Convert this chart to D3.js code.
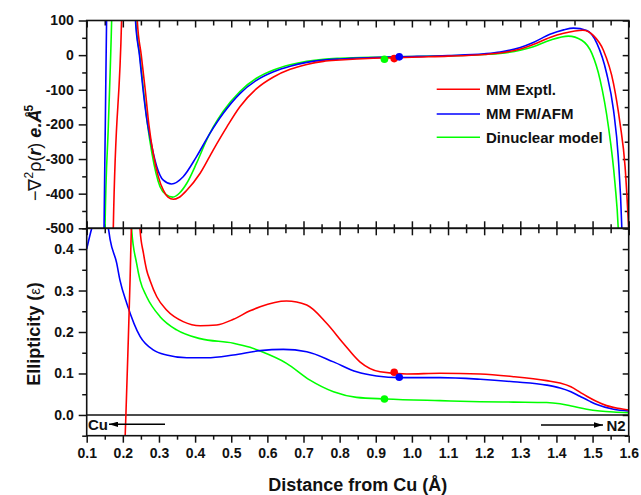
<!DOCTYPE html>
<html>
<head>
<meta charset="utf-8">
<script src="https://cdn.jsdelivr.net/npm/d3@7/dist/d3.min.js"></script>
<style>
  html, body { margin: 0; padding: 0; background: #fff; }
  svg { display: block; font-family: "Liberation Sans", Arial, sans-serif; }
  .tick text { font-weight: bold; font-size: 14px; fill: #111; }
</style>
</head>
<body>
<svg id="chart" width="641" height="495"></svg>
<script>
// Laplacian of the electron density along the Cu–N2 bond path, [distance (Å), value]
const lapExptl = [[0.170,-800],[0.1736,-500],[0.1965,100],[0.200,250],[0.220,400],[0.234,250],[0.240,100],[0.251,0],[0.262,-100],[0.272,-200],[0.284,-284],[0.298,-350],[0.312,-390],[0.325,-410],[0.340,-416],[0.355,-411],[0.377,-390],[0.414,-341],[0.450,-274],[0.488,-207],[0.524,-149],[0.571,-96],[0.617,-63],[0.663,-41],[0.709,-27],[0.755,-18],[0.801,-14],[0.893,-9],[0.950,-8],[1.000,-6],[1.100,-3],[1.200,2],[1.244,6],[1.300,18],[1.336,31],[1.382,51],[1.420,63],[1.473,72],[1.502,57],[1.530,14],[1.558,-82],[1.576,-197],[1.590,-322],[1.600,-500],[1.605,-600]];
const lapFmAfm = [[0.145,-900],[0.148,-500],[0.1515,-200],[0.155,100],[0.160,350],[0.200,500],[0.228,350],[0.235,100],[0.246,0],[0.256,-100],[0.267,-190],[0.275,-236],[0.294,-322],[0.312,-361],[0.335,-372],[0.367,-351],[0.404,-293],[0.441,-226],[0.478,-168],[0.524,-111],[0.571,-72],[0.617,-48],[0.663,-32],[0.709,-21],[0.755,-14.5],[0.801,-11],[0.893,-7],[0.960,-5],[1.000,-4],[1.100,-1],[1.200,4],[1.244,9],[1.300,22],[1.336,36.5],[1.382,60],[1.420,73],[1.447,78],[1.484,71],[1.512,34],[1.539,-53],[1.558,-159],[1.571,-293],[1.581,-500],[1.586,-700]];
const lapDinuclear = [[0.147,-900],[0.1507,-500],[0.160,-200],[0.169,100],[0.174,350],[0.200,500],[0.229,350],[0.236,100],[0.247,0],[0.257,-100],[0.267,-190],[0.280,-280],[0.303,-380],[0.320,-403],[0.338,-410],[0.357,-398],[0.377,-370],[0.404,-312],[0.432,-245],[0.450,-208],[0.478,-162],[0.524,-105],[0.571,-66],[0.617,-43],[0.663,-28],[0.709,-18],[0.755,-12],[0.801,-9],[0.893,-6],[0.950,-5],[1.000,-4],[1.100,-2],[1.200,2],[1.244,5],[1.300,14],[1.336,24],[1.382,43],[1.433,55],[1.470,43],[1.498,5],[1.521,-72],[1.544,-207],[1.562,-370],[1.571,-500],[1.576,-650]];

// Bond ellipticity along the same path
const ellExptl = [[0.200,-0.300],[0.2065,-0.050],[0.2085,0.000],[0.214,0.150],[0.220,0.325],[0.2235,0.450],[0.228,0.620],[0.236,0.650],[0.243,0.560],[0.2476,0.447],[0.257,0.390],[0.266,0.349],[0.275,0.325],[0.294,0.285],[0.321,0.253],[0.367,0.225],[0.414,0.215],[0.460,0.217],[0.506,0.2306],[0.552,0.251],[0.580,0.261],[0.653,0.2747],[0.709,0.265],[0.764,0.221],[0.810,0.173],[0.856,0.128],[0.912,0.104],[0.986,0.0988],[1.078,0.1004],[1.189,0.0988],[1.281,0.0923],[1.373,0.0827],[1.410,0.077],[1.440,0.068],[1.465,0.055],[1.484,0.045],[1.510,0.033],[1.539,0.0225],[1.570,0.016],[1.600,0.012]];
const ellFmAfm = [[0.100,0.400],[0.114,0.450],[0.125,0.480],[0.140,0.490],[0.152,0.475],[0.160,0.450],[0.165,0.422],[0.183,0.366],[0.192,0.325],[0.211,0.269],[0.248,0.189],[0.284,0.157],[0.321,0.1446],[0.377,0.138],[0.432,0.138],[0.506,0.1446],[0.580,0.155],[0.644,0.158],[0.709,0.1525],[0.783,0.128],[0.847,0.104],[0.902,0.094],[0.967,0.090],[1.078,0.090],[1.189,0.086],[1.281,0.080],[1.373,0.072],[1.410,0.065],[1.440,0.056],[1.465,0.045],[1.490,0.034],[1.512,0.025],[1.558,0.0137],[1.600,0.0096]];
const ellDinuclear = [[0.215,0.620],[0.2245,0.446],[0.238,0.366],[0.2476,0.325],[0.266,0.285],[0.303,0.237],[0.349,0.205],[0.414,0.184],[0.506,0.173],[0.552,0.163],[0.580,0.154],[0.653,0.1245],[0.718,0.084],[0.783,0.056],[0.847,0.0425],[0.928,0.0386],[1.078,0.0345],[1.189,0.032],[1.281,0.031],[1.373,0.030],[1.410,0.027],[1.445,0.021],[1.484,0.0137],[1.520,0.0095],[1.558,0.007],[1.600,0.0056]];

// Bond critical points: position, Laplacian, ellipticity
const bcpNames = ["MM Exptl.", "MM FM/AFM", "Dinuclear model"];
const bcpDist = [0.951, 0.965, 0.924];
const bcpLap = [-10, -5, -12];
const bcpEll = [0.103, 0.091, 0.0386];

const seriesColors = ["#ff0000", "#0000ff", "#00ff00"];

// Tick values
const xMajor = [0.1,0.2,0.3,0.4,0.5,0.6,0.7,0.8,0.9,1.0,1.1,1.2,1.3,1.4,1.5,1.6];
const xMinor = [0.15,0.25,0.35,0.45,0.55,0.65,0.75,0.85,0.95,1.05,1.15,1.25,1.35,1.45,1.55];
const lapMajor = [-500,-400,-300,-200,-100,0,100];
const lapMinor = [-450,-350,-250,-150,-50,50];
const ellMajor = [0.0,0.1,0.2,0.3,0.4];
const ellMinor = [-0.05,0.05,0.15,0.25,0.35,0.45];

const svg = d3.select("#chart");
const L = 86.7, R = 628.7, T = 20.5, M = 228.3, B = 435.7;

const x = d3.scaleLinear().domain([0.1, 1.6]).range([L, R]);
const yLap = d3.scaleLinear().domain([-500, 100]).range([M, T]);
const yEll = d3.scaleLinear().domain([-0.05, 0.45]).range([B, M]);

const defs = svg.append("defs");
defs.append("clipPath").attr("id", "clipTop").append("rect")
  .attr("x", L).attr("y", T).attr("width", R - L).attr("height", M - T);
defs.append("clipPath").attr("id", "clipBot").append("rect")
  .attr("x", L).attr("y", M).attr("width", R - L).attr("height", B - M);
defs.append("marker").attr("id", "arrowHead").attr("viewBox", "0 0 10 6")
  .attr("refX", 10).attr("refY", 3).attr("markerWidth", 9).attr("markerHeight", 5.4)
  .attr("markerUnits", "userSpaceOnUse").attr("orient", "auto")
  .append("path").attr("d", "M0,0 L10,3 L0,6 z").attr("fill", "#000");

// Helper to draw an axis group and strip its domain path
function drawAxis(axis, tx, ty) {
  const g = svg.append("g").attr("transform", `translate(${tx},${ty})`).call(axis);
  g.select(".domain").remove();
  g.selectAll(".tick line").attr("stroke", "#111").attr("stroke-width", 1.5);
  return g;
}
const noLabel = () => "";

// --- top panel axes ---
drawAxis(d3.axisLeft(yLap).tickValues(lapMajor).tickSize(8).tickPadding(5).tickFormat(d => String(d)), L, 0);
drawAxis(d3.axisLeft(yLap).tickValues(lapMinor).tickSize(4.5).tickFormat(noLabel), L, 0);
drawAxis(d3.axisRight(yLap).tickValues(lapMajor).tickSize(-6).tickFormat(noLabel), R, 0);
drawAxis(d3.axisRight(yLap).tickValues(lapMinor).tickSize(-4).tickFormat(noLabel), R, 0);
drawAxis(d3.axisTop(x).tickValues(xMajor).tickSize(-7).tickFormat(noLabel), 0, T);
drawAxis(d3.axisTop(x).tickValues(xMinor).tickSize(-5).tickFormat(noLabel), 0, T);
drawAxis(d3.axisBottom(x).tickValues(xMajor).tickSize(-7).tickFormat(noLabel), 0, M);
drawAxis(d3.axisBottom(x).tickValues(xMinor).tickSize(-4).tickFormat(noLabel), 0, M);

// --- bottom panel axes ---
drawAxis(d3.axisLeft(yEll).tickValues(ellMajor).tickSize(8).tickPadding(5).tickFormat(d => d.toFixed(1)), L, 0);
drawAxis(d3.axisLeft(yEll).tickValues(ellMinor).tickSize(4.5).tickFormat(noLabel), L, 0);
drawAxis(d3.axisRight(yEll).tickValues(ellMajor).tickSize(-6).tickFormat(noLabel), R, 0);
drawAxis(d3.axisRight(yEll).tickValues(ellMinor).tickSize(-4).tickFormat(noLabel), R, 0);
drawAxis(d3.axisTop(x).tickValues(xMajor).tickSize(-7).tickFormat(noLabel), 0, M);
drawAxis(d3.axisTop(x).tickValues(xMinor).tickSize(-5).tickFormat(noLabel), 0, M);
drawAxis(d3.axisBottom(x).tickValues(xMajor).tickSize(7).tickPadding(5).tickFormat(d => d.toFixed(1)), 0, B);
drawAxis(d3.axisBottom(x).tickValues(xMinor).tickSize(4).tickFormat(noLabel), 0, B);

// zero line of the ellipticity panel
svg.append("line").attr("x1", L).attr("x2", R).attr("y1", yEll(0)).attr("y2", yEll(0))
  .attr("stroke", "#111").attr("stroke-width", 1.5);

// --- curves ---
const lapLine = d3.line().x(d => x(d[0])).y(d => yLap(d[1])).curve(d3.curveMonotoneX);
const ellLine = d3.line().x(d => x(d[0])).y(d => yEll(d[1])).curve(d3.curveMonotoneX);

const topG = svg.append("g").attr("clip-path", "url(#clipTop)");
[lapDinuclear, lapFmAfm, lapExptl].forEach((s, i) => {
  topG.append("path").datum(s).attr("d", lapLine).attr("fill", "none")
    .attr("stroke", seriesColors[2 - i]).attr("stroke-width", 1.6);
});
const botG = svg.append("g").attr("clip-path", "url(#clipBot)");
[ellDinuclear, ellFmAfm, ellExptl].forEach((s, i) => {
  botG.append("path").datum(s).attr("d", ellLine).attr("fill", "none")
    .attr("stroke", seriesColors[2 - i]).attr("stroke-width", 1.6);
});

// bond critical points
bcpNames.forEach((n, i) => {
  svg.append("circle").attr("cx", x(bcpDist[i])).attr("cy", yLap(bcpLap[i])).attr("r", 3.8)
    .attr("fill", seriesColors[i]);
  svg.append("circle").attr("cx", x(bcpDist[i])).attr("cy", yEll(bcpEll[i])).attr("r", 3.8)
    .attr("fill", seriesColors[i]);
});

// panel frames
[[T, M], [M, B]].forEach(([a, b]) => {
  svg.append("rect").attr("x", L).attr("y", a).attr("width", R - L).attr("height", b - a)
    .attr("fill", "none").attr("stroke", "#111").attr("stroke-width", 1.6);
});

// legend
const legY = [89.3, 114, 137.3];
bcpNames.forEach((n, i) => {
  svg.append("line").attr("x1", 436.7).attr("x2", 480).attr("y1", legY[i]).attr("y2", legY[i])
    .attr("stroke", seriesColors[i]).attr("stroke-width", 1.6);
  svg.append("text").attr("x", 486).attr("y", legY[i] + 5.3).text(n)
    .attr("font-size", 15).attr("font-weight", "bold").attr("fill", "#111");
});

// direction markers along the bond path
svg.append("text").attr("x", 88).attr("y", 429.5).text("Cu")
  .attr("font-size", 15).attr("font-weight", "bold").attr("fill", "#111");
svg.append("line").attr("x1", 165).attr("x2", 109).attr("y1", 424.3).attr("y2", 424.3)
  .attr("stroke", "#000").attr("stroke-width", 1.4).attr("marker-end", "url(#arrowHead)");
svg.append("line").attr("x1", 541).attr("x2", 603).attr("y1", 425).attr("y2", 425)
  .attr("stroke", "#000").attr("stroke-width", 1.4).attr("marker-end", "url(#arrowHead)");
svg.append("text").attr("x", 606.5).attr("y", 430.5).text("N2")
  .attr("font-size", 15).attr("font-weight", "bold").attr("fill", "#111");

// axis titles
svg.append("text").attr("x", (L + R) / 2).attr("y", 491).attr("text-anchor", "middle")
  .attr("font-size", 18).attr("font-weight", "bold").attr("fill", "#111")
  .text("Distance from Cu (Å)");

const ellTitle = svg.append("text").attr("transform", "translate(40,334) rotate(-90)")
  .attr("text-anchor", "middle").attr("font-size", 18).attr("font-weight", "bold").attr("fill", "#111");
ellTitle.append("tspan").text("Ellipticity (");
ellTitle.append("tspan").attr("font-weight", "normal").attr("font-size", 15).text("ε");
ellTitle.append("tspan").text(")");

const lapTitle = svg.append("text").attr("transform", "translate(41,153) rotate(-90)")
  .attr("text-anchor", "middle").attr("font-size", 18).attr("fill", "#111");
lapTitle.append("tspan").text("−∇");
lapTitle.append("tspan").attr("dy", -8).attr("font-size", 12).text("2");
lapTitle.append("tspan").attr("dy", 8).text("ρ(");
lapTitle.append("tspan").attr("font-weight", "bold").attr("font-style", "italic").text("r");
lapTitle.append("tspan").text(") ");
lapTitle.append("tspan").attr("font-weight", "bold").attr("font-style", "italic").text("e.Å");
lapTitle.append("tspan").attr("dy", -8).attr("dx", -6).attr("font-size", 12).attr("font-weight", "bold").text("-5");
</script>
</body>
</html>
